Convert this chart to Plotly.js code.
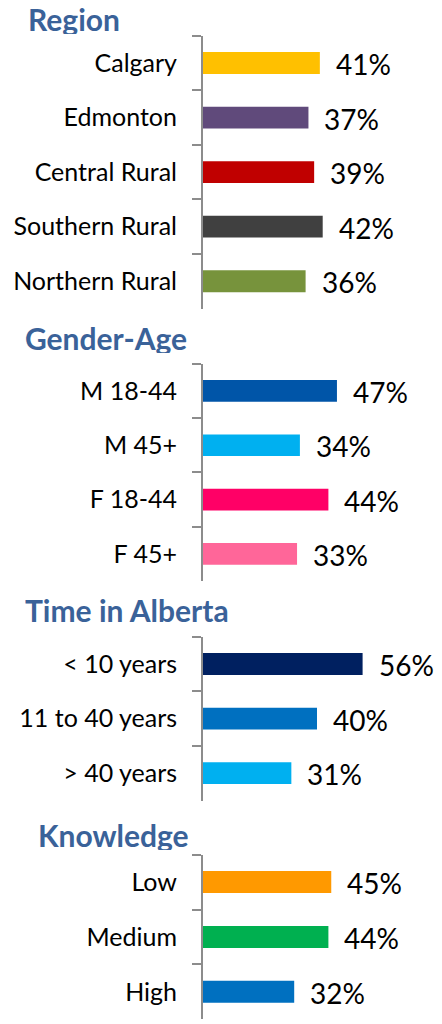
<!DOCTYPE html>
<html>
<head>
<meta charset="utf-8">
<script src="https://cdn.plot.ly/plotly-3.0.1.min.js"></script>
<style>html,body{margin:0;padding:0;background:#fff;}#chart{width:442px;height:1024px;}</style>
</head>
<body>
<div id="chart"></div>
<script>
// ---- data ----
const sectionTitles = ["Region", "Gender-Age", "Time in Alberta", "Knowledge"];

const regionCats = ["Calgary", "Edmonton", "Central Rural", "Southern Rural", "Northern Rural"];
const regionVals = [41, 37, 39, 42, 36];
const regionColors = ["#FFC000", "#604A7B", "#C00000", "#404040", "#77933C"];

const genderCats = ["M 18-44", "M 45+", "F 18-44", "F 45+"];
const genderVals = [47, 34, 44, 33];
const genderColors = ["#0055A8", "#00B0F0", "#FF0066", "#FF6699"];

const timeCats = ["< 10 years", "11 to 40 years", "> 40 years"];
const timeVals = [56, 40, 31];
const timeColors = ["#002060", "#0070C0", "#00B0F0"];

const knowCats = ["Low", "Medium", "High"];
const knowVals = [45, 44, 32];
const knowColors = ["#FF9900", "#00B050", "#0070C0"];

// ---- layout helpers ----
const H = 1024, W = 442;
const FONT = "Lato, 'Open Sans', sans-serif";
const sections = [
  {cats: regionCats, vals: regionVals, colors: regionColors, top: 35.7, bottom: 308.5, titleY: 18.5, titleX: 26},
  {cats: genderCats, vals: genderVals, colors: genderColors, top: 363.8, bottom: 581, titleY: 338, titleX: 23},
  {cats: timeCats, vals: timeVals, colors: timeColors, top: 636.7, bottom: 800.5, titleY: 610, titleX: 23},
  {cats: knowCats, vals: knowVals, colors: knowColors, top: 854.6, bottom: 1019.3, titleY: 835, titleX: 36}
];

const traces = [];
const layout = {
  width: W, height: H,
  margin: {l: 0, r: 0, t: 0, b: 0},
  paper_bgcolor: "#ffffff", plot_bgcolor: "#ffffff",
  showlegend: false,
  bargap: 0.6,
  annotations: []
};

const x0 = 203;            // pixel of zero
const pxPerPct = 2.85;
const xMax = (W - x0) / pxPerPct;

sections.forEach((s, i) => {
  const n = i + 1;
  const xa = n === 1 ? "x" : "x" + n;
  const ya = n === 1 ? "y" : "y" + n;
  traces.push({
    type: "bar", orientation: "h",
    x: s.vals, y: s.cats,
    xaxis: xa, yaxis: ya,
    marker: {color: s.colors, line: {width: 0}},
    hoverinfo: "skip"
  });
  layout[(n === 1 ? "xaxis" : "xaxis" + n)] = {
    domain: [x0 / W, 1], range: [0, xMax], anchor: ya,
    showgrid: false, zeroline: false, showline: false, showticklabels: false, ticks: "",
    fixedrange: true
  };
  layout[(n === 1 ? "yaxis" : "yaxis" + n)] = {
    domain: [1 - s.bottom / H, 1 - s.top / H], anchor: xa,
    type: "category", autorange: "reversed",
    showgrid: false, zeroline: false,
    showline: true, linecolor: "#8C8C8C", linewidth: 2,
    ticks: "outside", tickson: "boundaries", ticklen: 9, tickwidth: 2, tickcolor: "#8C8C8C",
    ticklabelstandoff: 19,
    tickfont: {family: FONT, size: 25, color: "#000000"},
    fixedrange: true
  };
  // value labels
  s.vals.forEach((v, j) => {
    layout.annotations.push({
      xref: xa, yref: ya, x: v, y: s.cats[j],
      text: v + "%", showarrow: false, xanchor: "left", yanchor: "middle",
      xshift: 14, yshift: -1,
      font: {family: FONT, size: 28, color: "#000000"}
    });
  });
  // section title
  layout.annotations.push({
    xref: "paper", yref: "paper",
    x: s.titleX / W, y: 1 - s.titleY / H,
    xanchor: "left", yanchor: "middle", height: 30, valign: "middle",
    text: "<b>" + sectionTitles[i] + "</b>", showarrow: false,
    font: {family: FONT, size: 30, color: "#3A6299"}
  });
});

Plotly.newPlot("chart", traces, layout, {displayModeBar: false, staticPlot: true});
</script>
</body>
</html>
